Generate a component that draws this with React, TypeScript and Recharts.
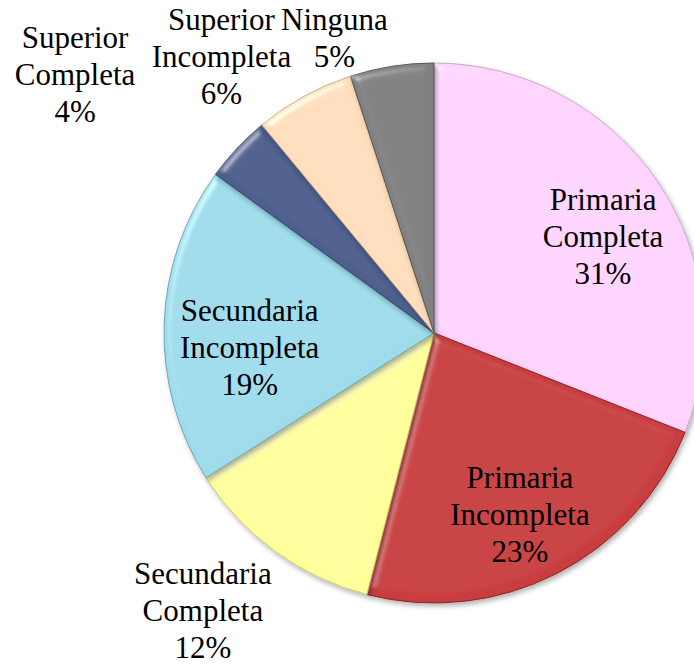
import { PieChart, Pie, Cell } from 'recharts';

const categories = [
  'Primaria Completa',
  'Primaria Incompleta',
  'Secundaria Completa',
  'Secundaria Incompleta',
  'Superior Completa',
  'Superior Incompleta',
  'Ninguna',
];
const shares = [31, 23, 12, 19, 4, 6, 5];
const labelLines = [
  ['Primaria', 'Completa', '31%'],
  ['Primaria', 'Incompleta', '23%'],
  ['Secundaria', 'Completa', '12%'],
  ['Secundaria', 'Incompleta', '19%'],
  ['Superior', 'Completa', '4%'],
  ['Superior', 'Incompleta', '6%'],
  ['Ninguna', '5%'],
];
const colors = ['#FFD4FF', '#C83C3E', '#FFFF9C', '#9FDBEA', '#4E5F8C', '#FFDEBD', '#808080'];
const strokes = ['#c8a8d0', '#8a2426', '#c8c870', '#6aa5b8', '#36426a', '#c8aa88', '#555555'];

// label placement: radius factor and angle shift (deg, clockwise) relative to slice middle
const labelRadius = [0.72, 0.745, 1.34, 0.685, 1.637, 1.29, 1.15];
const labelShift = [4.6, 1.7, 3.7, -6.5, -7.5, -8.8, -9.7];

const data = categories.map((name, i) => ({ name, value: shares[i] }));

const LINE = 37;
const FONT = 'Liberation Serif';

function renderLabel(props: any) {
  const { cx, cy, midAngle, outerRadius, index } = props;
  const compass = ((90 - midAngle + labelShift[index]) * Math.PI) / 180;
  const d = outerRadius * labelRadius[index];
  const x = cx + d * Math.sin(compass);
  const y = cy - d * Math.cos(compass);
  const lines = labelLines[index];
  const start = -((lines.length - 1) * LINE) / 2;
  return (
    <g key={index}>
      {lines.map((l, j) => (
        <text
          key={j}
          x={x}
          y={y + start + j * LINE + 10}
          textAnchor="middle"
          fill="#000"
          fontFamily={FONT}
          fontSize={31}
        >
          {l}
        </text>
      ))}
    </g>
  );
}

export default function App() {
  return (
    <div
      style={{
        position: 'absolute',
        left: 0,
        top: 0,
        width: 694,
        height: 666,
        overflow: 'hidden',
        background: '#fff',
      }}
    >
      <PieChart width={694} height={666} margin={{ top: 0, right: 0, bottom: 0, left: 0 }}>
        <defs>
          <filter id="bevel" x="-10%" y="-10%" width="120%" height="120%">
            <feGaussianBlur in="SourceAlpha" stdDeviation="4" result="blur" />
            <feSpecularLighting
              in="blur"
              surfaceScale="4"
              specularConstant="0.6"
              specularExponent="40"
              lightingColor="#ffffff"
              result="spec"
            >
              <feDistantLight azimuth="225" elevation="45" />
            </feSpecularLighting>
            <feComposite in="spec" in2="SourceAlpha" operator="in" result="specIn" />
            <feComposite
              in="SourceGraphic"
              in2="specIn"
              operator="arithmetic"
              k1="0"
              k2="1"
              k3="0.5"
              k4="0"
              result="lit"
            />
            <feDropShadow dx="2" dy="3" stdDeviation="2.5" floodColor="#000" floodOpacity="0.3" />
          </filter>
        </defs>
        <Pie
          data={data}
          dataKey="value"
          cx={434}
          cy={333}
          outerRadius={270}
          startAngle={90}
          endAngle={-270}
          isAnimationActive={false}
          label={renderLabel}
          labelLine={false}
        >
          {data.map((_, i) => (
            <Cell
              key={i}
              fill={colors[i]}
              stroke={strokes[i]}
              strokeWidth={1}
              filter="url(#bevel)"
            />
          ))}
        </Pie>
      </PieChart>
    </div>
  );
}
